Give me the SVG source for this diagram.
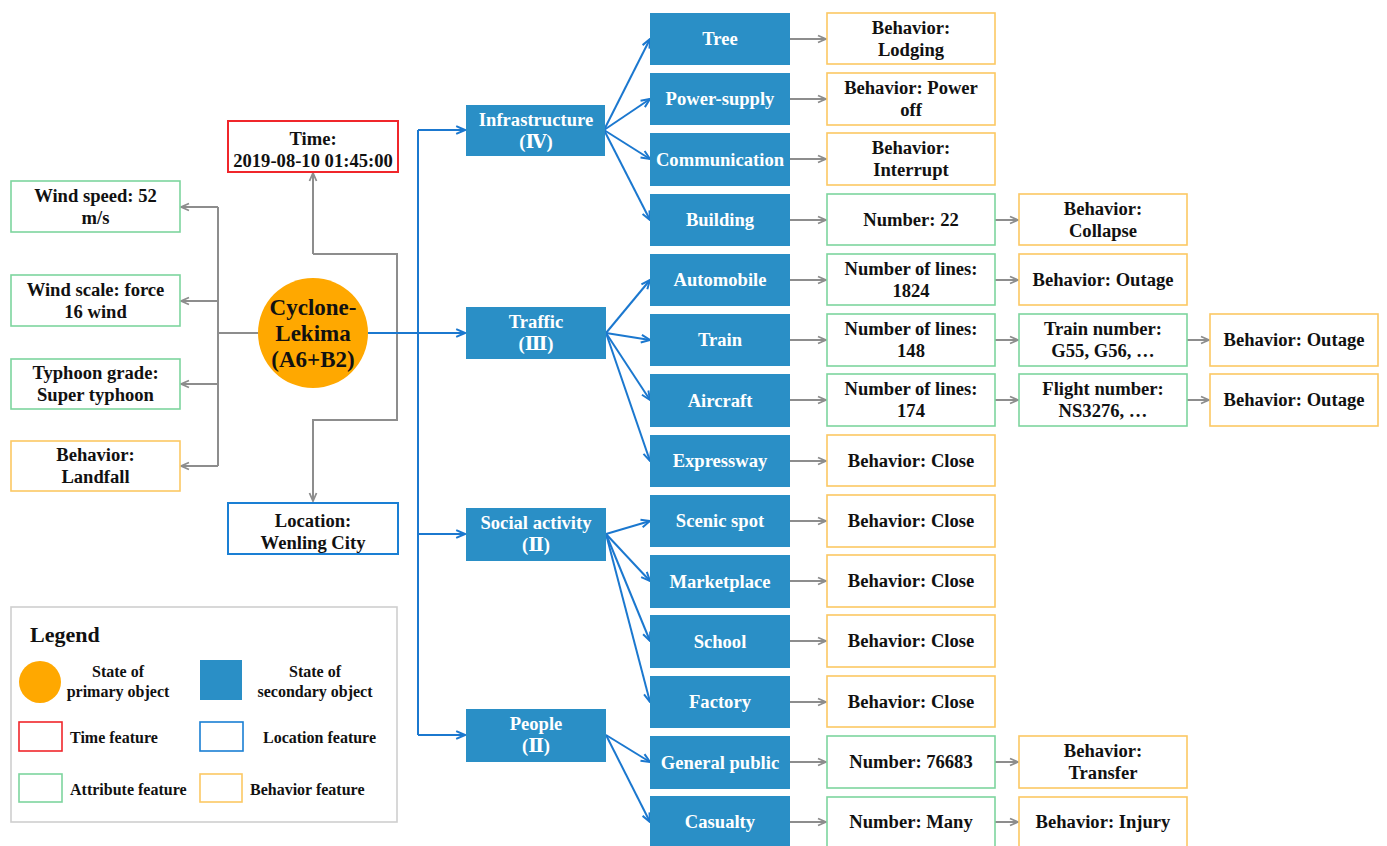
<svg xmlns="http://www.w3.org/2000/svg" width="1387" height="846" viewBox="0 0 1387 846">
<style>
  text { font-family: "Liberation Serif", "DejaVu Serif", serif; font-weight: bold; font-size: 18.6px; text-anchor: middle; fill: #111; }
  .w { fill: #fff; }
  .blue { fill: #2a8fc6; }
  .attr { fill: #fff; stroke: #7dd59e; stroke-width: 1.6; }
  .beh { fill: #fff; stroke: #fcc863; stroke-width: 1.6; }
  .gl { fill: none; stroke: #8d8d8d; stroke-width: 2; }
  .bl { fill: none; stroke: #1b78cf; stroke-width: 2; }
  .lg { font-size: 16px; }
  .lgl { font-size: 16px; text-anchor: start; }
</style>
<defs>
  <marker id="ag" viewBox="0 0 10 10" refX="9" refY="5" markerWidth="10" markerHeight="10" markerUnits="userSpaceOnUse" orient="auto">
    <path d="M1,1.5 L9,5 L1,8.5" fill="none" stroke="#8d8d8d" stroke-width="1.8"/>
  </marker>
  <marker id="ab" viewBox="0 0 10 10" refX="9" refY="5" markerWidth="11" markerHeight="11" markerUnits="userSpaceOnUse" orient="auto">
    <path d="M1,1.5 L9,5 L1,8.5" fill="none" stroke="#1b78cf" stroke-width="1.8"/>
  </marker>
</defs>

<!-- connectors -->
<g id="connectors">
  <!-- primary object to its attributes -->
  <path class="gl" d="M258,333 H218 M218,207 V466"/>
  <path class="gl" d="M218,207 H181" marker-end="url(#ag)"/>
  <path class="gl" d="M218,301 H181" marker-end="url(#ag)"/>
  <path class="gl" d="M218,384 H181" marker-end="url(#ag)"/>
  <path class="gl" d="M218,466 H181" marker-end="url(#ag)"/>
  <!-- time and location loop -->
  <path class="gl" d="M313,254 V173" marker-end="url(#ag)"/>
  <path class="gl" d="M313,254 H397 V420 H313 V501" marker-end="url(#ag)"/>
  <!-- primary object to categories -->
  <path class="bl" d="M368,333 H418 M418,130 V735"/>
  <path class="bl" d="M418,130 H465" marker-end="url(#ab)"/>
  <path class="bl" d="M418,333 H465" marker-end="url(#ab)"/>
  <path class="bl" d="M418,534 H465" marker-end="url(#ab)"/>
  <path class="bl" d="M418,735 H465" marker-end="url(#ab)"/>
  <!-- categories to secondary objects -->
  <path class="bl" d="M604,130 L650,39" marker-end="url(#ab)"/>
  <path class="bl" d="M604,130 L650,99" marker-end="url(#ab)"/>
  <path class="bl" d="M604,130 L650,159" marker-end="url(#ab)"/>
  <path class="bl" d="M604,130 L650,220" marker-end="url(#ab)"/>
  <path class="bl" d="M606,333 L650,280" marker-end="url(#ab)"/>
  <path class="bl" d="M606,333 L650,340" marker-end="url(#ab)"/>
  <path class="bl" d="M606,333 L650,400" marker-end="url(#ab)"/>
  <path class="bl" d="M606,333 L650,461" marker-end="url(#ab)"/>
  <path class="bl" d="M606,534 L650,521" marker-end="url(#ab)"/>
  <path class="bl" d="M606,534 L650,581" marker-end="url(#ab)"/>
  <path class="bl" d="M606,534 L650,641" marker-end="url(#ab)"/>
  <path class="bl" d="M606,534 L650,702" marker-end="url(#ab)"/>
  <path class="bl" d="M606,735 L650,762" marker-end="url(#ab)"/>
  <path class="bl" d="M606,735 L650,822" marker-end="url(#ab)"/>
  <!-- secondary objects to features -->
  <path class="gl" d="M790,39 H826" marker-end="url(#ag)"/>
  <path class="gl" d="M790,99 H826" marker-end="url(#ag)"/>
  <path class="gl" d="M790,159 H826" marker-end="url(#ag)"/>
  <path class="gl" d="M790,220 H826" marker-end="url(#ag)"/>
  <path class="gl" d="M790,280 H826" marker-end="url(#ag)"/>
  <path class="gl" d="M790,340 H826" marker-end="url(#ag)"/>
  <path class="gl" d="M790,400 H826" marker-end="url(#ag)"/>
  <path class="gl" d="M790,461 H826" marker-end="url(#ag)"/>
  <path class="gl" d="M790,521 H826" marker-end="url(#ag)"/>
  <path class="gl" d="M790,581 H826" marker-end="url(#ag)"/>
  <path class="gl" d="M790,641 H826" marker-end="url(#ag)"/>
  <path class="gl" d="M790,702 H826" marker-end="url(#ag)"/>
  <path class="gl" d="M790,762 H826" marker-end="url(#ag)"/>
  <path class="gl" d="M790,822 H826" marker-end="url(#ag)"/>
  <path class="gl" d="M995,220 H1018" marker-end="url(#ag)"/>
  <path class="gl" d="M995,280 H1018" marker-end="url(#ag)"/>
  <path class="gl" d="M995,340 H1018" marker-end="url(#ag)"/>
  <path class="gl" d="M995,400 H1018" marker-end="url(#ag)"/>
  <path class="gl" d="M995,762 H1018" marker-end="url(#ag)"/>
  <path class="gl" d="M995,822 H1018" marker-end="url(#ag)"/>
  <path class="gl" d="M1187,340 H1209" marker-end="url(#ag)"/>
  <path class="gl" d="M1187,400 H1209" marker-end="url(#ag)"/>
</g>

<!-- primary object -->
<g id="cyclone">
  <circle cx="313" cy="333" r="55" fill="#ffa800"/>
  <text x="313" y="315" style="font-size:23px">Cyclone-</text>
  <text x="313" y="341" style="font-size:23px">Lekima</text>
  <text x="313" y="367" style="font-size:23px">(A6+B2)</text>
</g>

<!-- attribute / behavior of the primary object -->
<g id="wind-speed"><rect class="attr" x="11" y="181" width="169" height="51"/><text x="95.5" y="202">Wind speed: 52</text><text x="95.5" y="224">m/s</text></g>
<g id="wind-scale"><rect class="attr" x="11" y="275" width="169" height="51"/><text x="95.5" y="296">Wind scale: force</text><text x="95.5" y="318">16 wind</text></g>
<g id="typhoon-grade"><rect class="attr" x="11" y="359" width="169" height="50"/><text x="95.5" y="379">Typhoon grade:</text><text x="95.5" y="401">Super typhoon</text></g>
<g id="landfall"><rect class="beh" x="11" y="441" width="169" height="50"/><text x="95.5" y="461">Behavior:</text><text x="95.5" y="483">Landfall</text></g>

<g id="time"><rect x="228" y="121" width="170" height="51" fill="#fff" stroke="#f0262b" stroke-width="2"/><text x="313" y="145">Time:</text><text x="313" y="167">2019-08-10 01:45:00</text></g>
<g id="location"><rect x="228" y="503" width="170" height="51" fill="#fff" stroke="#1a7fd4" stroke-width="2"/><text x="313" y="527">Location:</text><text x="313" y="549">Wenling City</text></g>

<!-- categories -->
<g id="infrastructure"><rect class="blue" x="466" y="105" width="139" height="51"/><text class="w" x="536" y="126">Infrastructure</text><text class="w" x="536" y="148">(Ⅳ)</text></g>
<g id="traffic"><rect class="blue" x="466" y="307" width="140" height="52"/><text class="w" x="536" y="328">Traffic</text><text class="w" x="536" y="350">(Ⅲ)</text></g>
<g id="social-activity"><rect class="blue" x="466" y="508" width="140" height="53"/><text class="w" x="536" y="529">Social activity</text><text class="w" x="536" y="551">(Ⅱ)</text></g>
<g id="people"><rect class="blue" x="466" y="709" width="140" height="53"/><text class="w" x="536" y="730">People</text><text class="w" x="536" y="752">(Ⅱ)</text></g>

<!-- secondary objects -->
<g id="tree"><rect class="blue" x="650" y="13" width="140" height="52"/><text class="w" x="720" y="45">Tree</text></g>
<g id="power-supply"><rect class="blue" x="650" y="73" width="140" height="52"/><text class="w" x="720" y="105">Power-supply</text></g>
<g id="communication"><rect class="blue" x="650" y="133" width="140" height="53"/><text class="w" x="720" y="165.5">Communication</text></g>
<g id="building"><rect class="blue" x="650" y="194" width="140" height="52"/><text class="w" x="720" y="226">Building</text></g>
<g id="automobile"><rect class="blue" x="650" y="254" width="140" height="52"/><text class="w" x="720" y="286">Automobile</text></g>
<g id="train"><rect class="blue" x="650" y="314" width="140" height="52"/><text class="w" x="720" y="346">Train</text></g>
<g id="aircraft"><rect class="blue" x="650" y="374" width="140" height="53"/><text class="w" x="720" y="406.5">Aircraft</text></g>
<g id="expressway"><rect class="blue" x="650" y="435" width="140" height="52"/><text class="w" x="720" y="467">Expressway</text></g>
<g id="scenic-spot"><rect class="blue" x="650" y="495" width="140" height="52"/><text class="w" x="720" y="527">Scenic spot</text></g>
<g id="marketplace"><rect class="blue" x="650" y="555" width="140" height="53"/><text class="w" x="720" y="587.5">Marketplace</text></g>
<g id="school"><rect class="blue" x="650" y="615" width="140" height="53"/><text class="w" x="720" y="647.5">School</text></g>
<g id="factory"><rect class="blue" x="650" y="676" width="140" height="52"/><text class="w" x="720" y="708">Factory</text></g>
<g id="general-public"><rect class="blue" x="650" y="736" width="140" height="53"/><text class="w" x="720" y="768.5">General public</text></g>
<g id="casualty"><rect class="blue" x="650" y="796" width="140" height="53"/><text class="w" x="720" y="828">Casualty</text></g>

<!-- features of secondary objects -->
<g id="tree-behavior"><rect class="beh" x="827" y="13" width="168" height="51"/><text x="911" y="34">Behavior:</text><text x="911" y="56">Lodging</text></g>
<g id="power-behavior"><rect class="beh" x="827" y="73" width="168" height="52"/><text x="911" y="94">Behavior: Power</text><text x="911" y="116">off</text></g>
<g id="communication-behavior"><rect class="beh" x="827" y="133" width="168" height="52"/><text x="911" y="154">Behavior:</text><text x="911" y="176">Interrupt</text></g>
<g id="building-number"><rect class="attr" x="827" y="194" width="168" height="51"/><text x="911" y="226">Number: 22</text></g>
<g id="building-behavior"><rect class="beh" x="1019" y="194" width="168" height="51"/><text x="1103" y="215">Behavior:</text><text x="1103" y="237">Collapse</text></g>
<g id="automobile-lines"><rect class="attr" x="827" y="254" width="168" height="51"/><text x="911" y="275">Number of lines:</text><text x="911" y="297">1824</text></g>
<g id="automobile-behavior"><rect class="beh" x="1019" y="254" width="168" height="51"/><text x="1103" y="286">Behavior: Outage</text></g>
<g id="train-lines"><rect class="attr" x="827" y="314" width="168" height="52"/><text x="911" y="335">Number of lines:</text><text x="911" y="357">148</text></g>
<g id="train-number"><rect class="attr" x="1019" y="314" width="168" height="52"/><text x="1103" y="335">Train number:</text><text x="1103" y="357">G55, G56, …</text></g>
<g id="train-behavior"><rect class="beh" x="1210" y="314" width="168" height="52"/><text x="1294" y="346">Behavior: Outage</text></g>
<g id="aircraft-lines"><rect class="attr" x="827" y="374" width="168" height="52"/><text x="911" y="395">Number of lines:</text><text x="911" y="417">174</text></g>
<g id="flight-number"><rect class="attr" x="1019" y="374" width="168" height="52"/><text x="1103" y="395">Flight number:</text><text x="1103" y="417">NS3276, …</text></g>
<g id="aircraft-behavior"><rect class="beh" x="1210" y="374" width="168" height="52"/><text x="1294" y="406">Behavior: Outage</text></g>
<g id="expressway-behavior"><rect class="beh" x="827" y="435" width="168" height="51"/><text x="911" y="467">Behavior: Close</text></g>
<g id="scenic-behavior"><rect class="beh" x="827" y="495" width="168" height="52"/><text x="911" y="527">Behavior: Close</text></g>
<g id="marketplace-behavior"><rect class="beh" x="827" y="555" width="168" height="52"/><text x="911" y="587">Behavior: Close</text></g>
<g id="school-behavior"><rect class="beh" x="827" y="615" width="168" height="52"/><text x="911" y="647">Behavior: Close</text></g>
<g id="factory-behavior"><rect class="beh" x="827" y="676" width="168" height="51"/><text x="911" y="708">Behavior: Close</text></g>
<g id="public-number"><rect class="attr" x="827" y="736" width="168" height="52"/><text x="911" y="768">Number: 76683</text></g>
<g id="public-behavior"><rect class="beh" x="1019" y="736" width="168" height="52"/><text x="1103" y="757">Behavior:</text><text x="1103" y="779">Transfer</text></g>
<g id="casualty-number"><rect class="attr" x="827" y="797" width="168" height="52"/><text x="911" y="828">Number: Many</text></g>
<g id="casualty-behavior"><rect class="beh" x="1019" y="797" width="168" height="52"/><text x="1103" y="828">Behavior: Injury</text></g>

<!-- legend -->
<g id="legend">
  <rect x="11" y="607" width="386" height="215" fill="#fff" stroke="#cfcfcf" stroke-width="1.6"/>
  <text x="30" y="642" style="font-size:22px;text-anchor:start">Legend</text>
  <circle cx="40" cy="682" r="21" fill="#ffa800"/>
  <text class="lg" x="118" y="677">State of</text>
  <text class="lg" x="118" y="697">primary object</text>
  <rect x="200" y="660" width="42" height="40" fill="#2a8fc6"/>
  <text class="lg" x="315" y="677">State of</text>
  <text class="lg" x="315" y="697">secondary object</text>
  <rect x="19" y="722" width="43" height="29" fill="#fff" stroke="#f0262b" stroke-width="1.6"/>
  <text class="lgl" x="70" y="743">Time feature</text>
  <rect x="200" y="722" width="43" height="29" fill="#fff" stroke="#1a7fd4" stroke-width="1.6"/>
  <text class="lgl" x="263" y="743">Location feature</text>
  <rect class="attr" x="19" y="774" width="43" height="28"/>
  <text class="lgl" x="70" y="795">Attribute feature</text>
  <rect class="beh" x="200" y="774" width="42" height="28"/>
  <text class="lgl" x="250" y="795">Behavior feature</text>
</g>
</svg>
